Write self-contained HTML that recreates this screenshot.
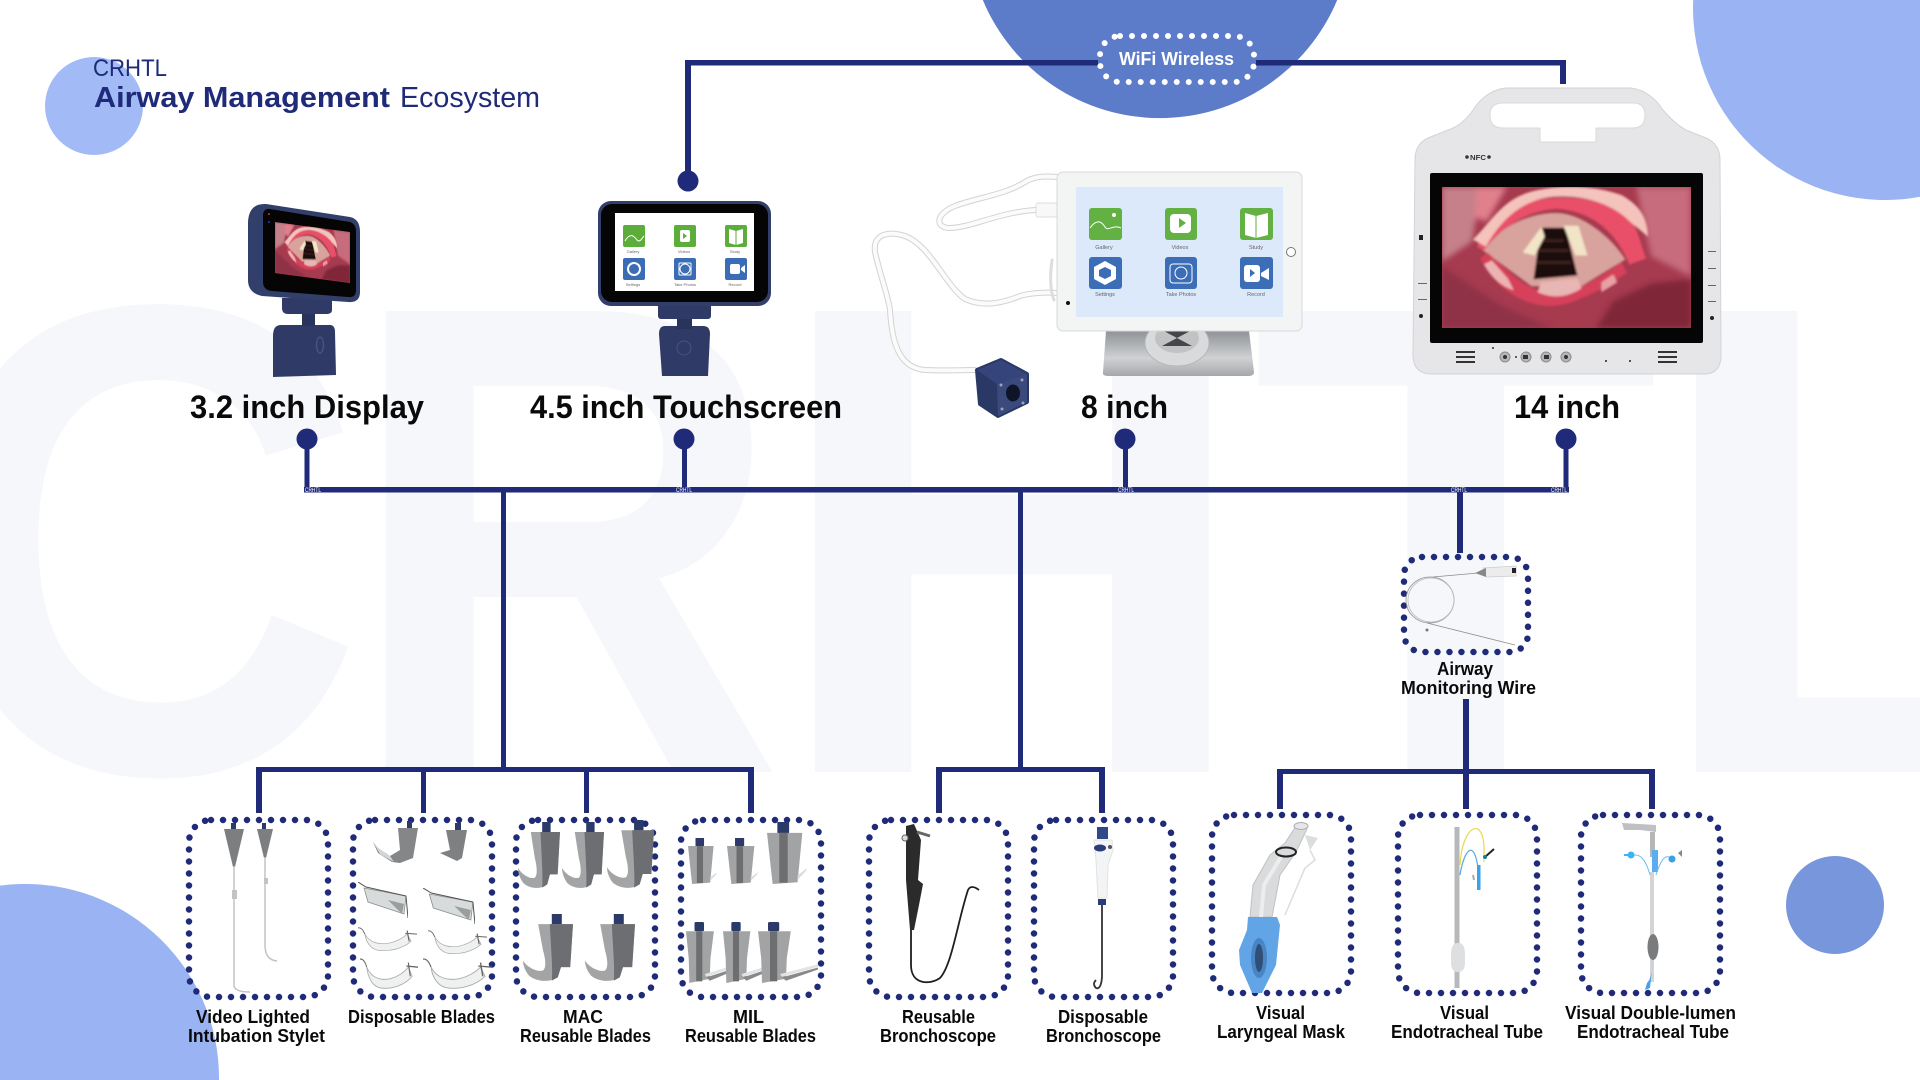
<!DOCTYPE html>
<html><head><meta charset="utf-8"><title>CRHTL Airway Management Ecosystem</title>
<style>
html,body{margin:0;padding:0;background:#fff;width:1920px;height:1080px;overflow:hidden}
svg{display:block;font-family:"Liberation Sans",sans-serif}
.lb{font-weight:700;fill:#0a0a0a;font-size:18px}
.bg{font-weight:700;font-size:670px;fill:#f6f7fa}
.tiny{font-size:6px;fill:#fff}
.ic{font-size:4px;fill:#666;text-anchor:middle}
.ic2{font-size:5.5px;fill:#666;text-anchor:middle}
</style></head><body>
<svg width="1920" height="1080" viewBox="0 0 1920 1080" xmlns="http://www.w3.org/2000/svg">
<defs>
<filter id="b1" x="-10%" y="-10%" width="120%" height="120%"><feGaussianBlur stdDeviation="1.200"/></filter>
<filter id="b3" x="-20%" y="-20%" width="140%" height="140%"><feGaussianBlur stdDeviation="3"/></filter>
<linearGradient id="st" x1="0" y1="0" x2="0" y2="1"><stop offset="0" stop-color="#8f9296"/><stop offset=".6" stop-color="#cfd1d3"/><stop offset="1" stop-color="#a5a7aa"/></linearGradient>
<symbol id="throat" viewBox="0 0 250 142" preserveAspectRatio="none">
<rect width="250" height="142" fill="#a63a4f"/>
<g filter="url(#b3)">
<path d="M0 0H40L30 55L0 75Z" fill="#c58089"/>
<path d="M195 0H250V90L210 70Z" fill="#c66c7b"/>
<path d="M0 80L60 120L110 142H0Z" fill="#8f3147"/>
<path d="M155 142L172 115L210 97L250 93V142Z" fill="#7f2539"/>
<path d="M35 0H65L45 35L32 30Z" fill="#e0808c"/>
</g>
<g filter="url(#b1)">
<path d="M40 63C60 38 90 26 114 26C140 26 170 50 184 73L140 100L90 100Z" fill="#d8a39c"/>
<path d="M35 60C45 42 60 20 90 14C120 8 165 10 188 30C198 45 200 60 205 72L188 78C175 45 150 24 115 22C85 24 60 40 42 64Z" fill="#e94f68"/>
<path d="M31 53C50 35 60 12 92 4C120 -2 150 -2 180 8C198 18 206 30 207 50L190 36C170 15 140 8 112 10C85 12 62 28 44 60Z" fill="#f3c3bc"/>
<path d="M38 72C50 92 62 106 82 114C100 122 118 122 140 112C160 104 172 96 186 86L180 76C164 88 148 98 130 104C108 110 90 104 75 92C62 82 52 72 46 66Z" fill="#d6405a"/>
<path d="M42 78C50 92 60 100 72 104L66 92L50 74Z" fill="#ecb3b2"/>
<path d="M160 96L172 88L176 96L160 106Z" fill="#e8a0a4"/>
<path d="M99 96L136 92L140 102C125 112 110 112 96 106Z" fill="#e8b6b4"/>
<path d="M99 41H124L136 89L92 93Z" fill="#1e1110"/>
<path d="M100 54H122M97 64H127M95 76H130" stroke="#3f2420" stroke-width="2.500" fill="none"/>
<path d="M100 40L81 66L93 69L103 50Z" fill="#f2e4c6"/>
<path d="M122 39H137L146 69L134 69Z" fill="#f2e4c6"/>
</g>
</symbol>
<symbol id="mac" viewBox="0 0 125 205" preserveAspectRatio="none">
<rect x="72" y="0" width="25" height="32" fill="#2c3a6a"/>
<path d="M38 30H125L118 158H95L87 188C70 203 35 203 15 183C5 168 0 153 0 138C10 158 35 173 50 168C60 158 55 128 50 108Z" fill="#a3a4a6"/>
<path d="M67 30H125L118 158H95L87 188L72 198C75 170 70 100 67 30Z" fill="#6d6e71"/>
</symbol>
<symbol id="mil" viewBox="0 0 85 137" preserveAspectRatio="none">
<rect x="22" y="0" width="25" height="26" fill="#2c3a6a"/>
<path d="M0 24H75L68 100L65 133L12 137L8 100Z" fill="#a2a3a5"/>
<rect x="26" y="24" width="18" height="110" fill="#6d6e70"/>
<path d="M65 118L85 102L83 108L65 128Z" fill="#dcdcdd"/>
</symbol>
<symbol id="mil2" viewBox="0 0 150 185" preserveAspectRatio="none">
<rect x="25" y="0" width="28" height="28" rx="4" fill="#2c3a6a"/>
<path d="M0 28H82L72 110L70 172L10 185L8 110Z" fill="#a2a3a5"/>
<rect x="30" y="28" width="18" height="152" fill="#6d6e70"/>
<path d="M60 168L150 138V144L70 178Z" fill="#88898b"/>
<path d="M55 158L150 128V136L60 166Z" fill="#e2e3e3"/>
</symbol>
<symbol id="curve" viewBox="0 0 60 28" preserveAspectRatio="none">
<path d="M7 8C12 18 22 20 32 18C40 16 46 12 50 8L54 16C46 24 32 28 20 26C12 24 8 16 7 8Z" fill="#eff1f1" stroke="#a8aaaa" stroke-width=".8"/>
<path d="M0 1Q4 0 7 8" fill="none" stroke="#666" stroke-width="1"/>
<path d="M48 7L60 8M50 4L52 16" stroke="#666" stroke-width="1.200" fill="none"/>
</symbol>
<symbol id="trans" viewBox="0 0 50 36" preserveAspectRatio="none">
<path d="M6 6L48 14L46 32L10 20Z" fill="#d8dbdb" stroke="#8d8f90" stroke-width=".8"/>
<path d="M0 0L8 5L48 14M48 14L50 36" stroke="#555" stroke-width="1" fill="none"/>
<path d="M30 18L46 22L44 32Z" fill="#9b9e9f"/>
</symbol>
</defs>

<rect width="1920" height="1080" fill="#fff"/>
<!-- watermark -->
<text x="-75" y="772" class="bg" textLength="440" lengthAdjust="spacingAndGlyphs">C</text>
<text x="345" y="772" class="bg" textLength="440" lengthAdjust="spacingAndGlyphs">R</text>
<text x="770" y="772" class="bg">H</text>
<text x="1251" y="772" class="bg">T</text>
<text x="1649" y="772" class="bg" textLength="430" lengthAdjust="spacingAndGlyphs">L</text>

<!-- circles -->
<circle cx="94" cy="106" r="49" fill="#a2bbf6"/>
<path d="M982.800 0A192 192 0 0 0 1337.200 0Z" fill="#5c7cc9"/>
<path d="M1693.200 0A192 192 0 0 0 1920 196.800V0Z" fill="#9ab3f3"/>
<path d="M0 1080V885.600A194 194 0 0 1 219 1080Z" fill="#9ab3f3"/>
<circle cx="1835" cy="905" r="49" fill="#7896dc"/>

<!-- title -->
<text x="93" y="76" font-size="24" fill="#1f2a78" textLength="74" lengthAdjust="spacingAndGlyphs">CRHTL</text>
<text x="94" y="107" font-size="29" font-weight="700" fill="#1f2a78" textLength="296" lengthAdjust="spacingAndGlyphs">Airway Management</text>
<text x="400" y="107" font-size="29" fill="#1f2a78" textLength="140" lengthAdjust="spacingAndGlyphs">Ecosystem</text>

<!-- connectors -->
<g fill="#1f2a78">
<rect x="685" y="60" width="413" height="5.500"/><rect x="685" y="60" width="6" height="120"/>
<rect x="1256" y="60" width="310" height="5.500"/><rect x="1560" y="60" width="6" height="24"/>
<circle cx="688" cy="181" r="10.500"/>
<rect x="304" y="487" width="1265" height="5.500"/>
<rect x="304.500" y="440" width="5" height="50"/><circle cx="307" cy="439" r="10.500"/>
<rect x="682" y="440" width="5" height="50"/><circle cx="684" cy="439" r="10.500"/>
<rect x="1123" y="440" width="5" height="50"/><circle cx="1125" cy="439" r="10.500"/>
<rect x="1563.500" y="440" width="5" height="50"/><circle cx="1566" cy="439" r="10.500"/>
<rect x="501" y="490" width="5" height="280"/>
<rect x="1018" y="490" width="5" height="280"/>
<rect x="1457" y="490" width="6" height="63"/>
<rect x="1463" y="699" width="6" height="72"/>
<rect x="256" y="767" width="498" height="5"/>
<rect x="256" y="767" width="6" height="46"/><rect x="421" y="767" width="5" height="46"/><rect x="584" y="767" width="5" height="46"/><rect x="748" y="767" width="6" height="46"/>
<rect x="936" y="767" width="169" height="5"/>
<rect x="936" y="767" width="6" height="46"/><rect x="1099" y="767" width="6" height="46"/>
<rect x="1277" y="769" width="378" height="5"/>
<rect x="1277" y="769" width="6" height="40"/><rect x="1463" y="769" width="6" height="40"/><rect x="1649" y="769" width="6" height="40"/>
</g>
<text x="305" y="492" class="tiny" textLength="16" lengthAdjust="spacingAndGlyphs">CRHTL</text>
<text x="676" y="492" class="tiny" textLength="16" lengthAdjust="spacingAndGlyphs">CRHTL</text>
<text x="1118" y="492" class="tiny" textLength="16" lengthAdjust="spacingAndGlyphs">CRHTL</text>
<text x="1451" y="492" class="tiny" textLength="16" lengthAdjust="spacingAndGlyphs">CRHTL</text>
<text x="1551" y="492" class="tiny" textLength="16" lengthAdjust="spacingAndGlyphs">CRHTL</text>

<!-- wifi -->
<rect x="1100" y="36" width="154" height="46" rx="20" fill="none" stroke="#fff" stroke-width="6" stroke-linecap="round" stroke-dasharray="0 12"/>
<text x="1119" y="65" font-size="18" font-weight="700" fill="#fff" textLength="115" lengthAdjust="spacingAndGlyphs">WiFi Wireless</text>

<!-- 3.2 inch device -->
<g>
<path d="M281 325H328Q335 324 335 332L336 375L273 377L273 336Q273 325 281 325Z" fill="#2f3b66"/>
<ellipse cx="320" cy="345" rx="3.500" ry="8" fill="none" stroke="#47537e" stroke-width="1.500"/>
<rect x="302" y="312" width="13" height="14" fill="#29345c"/>
<path d="M282 298H332V310Q332 314 326 314H288Q282 314 282 308Z" fill="#2f3b66"/>
<path d="M266 204L350 217Q360 219 360 232L360 292Q360 303 348 302L262 296Q248 293 248 280V222Q249 203 266 204Z" fill="#333f6b"/>
<path d="M270 209L350 222Q356 224 356 232V290Q356 298 348 297L272 291Q263 290 263 282V216Q263 208 270 209Z" fill="#050505"/>
<use href="#throat" width="250" height="142" transform="matrix(.3 .04 0 .36 275 222)"/>
<circle cx="269" cy="214" r="1" fill="#c33"/><circle cx="269" cy="222" r="1" fill="#33c"/>
</g>

<!-- 4.5 inch device -->
<g>
<path d="M665 326H703Q710 326 710 334L708 376H662L659 334Q659 326 665 326Z" fill="#2f3b66"/>
<circle cx="684" cy="348" r="7" fill="none" stroke="#47537e"/>
<rect x="677" y="315" width="15" height="14" fill="#29345c"/>
<rect x="658" y="300" width="53" height="19" rx="3" fill="#2f3b66"/>
<rect x="598" y="201" width="173" height="105" rx="13" fill="#333f6b"/>
<rect x="601" y="204" width="167" height="98" rx="11" fill="#050505"/>
<rect x="615" y="213" width="139" height="78" fill="#fff"/>
<g fill="#5cad3a"><rect x="623" y="225" width="22" height="22" rx="2"/><rect x="674" y="225" width="22" height="22" rx="2"/><rect x="725" y="225" width="22" height="22" rx="2"/></g>
<g fill="#3a6db5"><rect x="623" y="258" width="22" height="22" rx="2"/><rect x="674" y="258" width="22" height="22" rx="2"/><rect x="725" y="258" width="22" height="22" rx="2"/></g>
<path d="M625 241C630 232 634 236 637 240C640 243 642 238 644 236" fill="none" stroke="#fff"/>
<rect x="680" y="230" width="10" height="12" rx="2" fill="#fff"/><path d="M683 233L687 236L683 239Z" fill="#5cad3a"/>
<path d="M729 229L736 231L743 229V243L736 245L729 243Z" fill="#fff"/><path d="M736 231V245" stroke="#5cad3a"/>
<circle cx="634" cy="269" r="6" fill="none" stroke="#fff" stroke-width="2"/><circle cx="685" cy="269" r="5" fill="none" stroke="#fff"/><rect x="679" y="263" width="12" height="12" rx="1" fill="none" stroke="#fff"/>
<rect x="730" y="264" width="10" height="10" rx="2" fill="#fff"/><path d="M741 268L745 265V273L741 270Z" fill="#fff"/>
<text x="633" y="253" class="ic">Gallery</text><text x="684" y="253" class="ic">Videos</text><text x="735" y="253" class="ic">Study</text>
<text x="633" y="286" class="ic">Settings</text><text x="685" y="286" class="ic">Take Photos</text><text x="735" y="286" class="ic">Record</text>
</g>

<!-- 8 inch device cables -->
<g fill="none" stroke-linecap="round">
<path d="M1057 293C1045 292 1030 293 1020 296C1005 302 985 308 965 299C945 285 930 245 905 236C885 230 873 236 875 252C880 275 888 295 890 310C892 345 900 368 925 370C945 371 960 370 975 370" stroke="#d2d3d3" stroke-width="6"/>
<path d="M1057 293C1045 292 1030 293 1020 296C1005 302 985 308 965 299C945 285 930 245 905 236C885 230 873 236 875 252C880 275 888 295 890 310C892 345 900 368 925 370C945 371 960 370 975 370" stroke="#fbfbfb" stroke-width="4"/>
<path d="M1057 177C1045 176 1035 176 1025 182C1005 195 975 198 955 206C935 214 935 228 950 228C970 228 1000 212 1035 210" stroke="#d2d3d3" stroke-width="6"/>
<path d="M1057 177C1045 176 1035 176 1025 182C1005 195 975 198 955 206C935 214 935 228 950 228C970 228 1000 212 1035 210" stroke="#fbfbfb" stroke-width="4"/>
<path d="M1052 260C1050 275 1050 290 1054 300" stroke="#ddd" stroke-width="3"/>
</g>
<rect x="1036" y="203" width="21" height="14" rx="2" fill="#f8f8f8" stroke="#ddd"/>
<!-- camera -->
<g stroke-linejoin="round">
<path d="M977 370L1001 360L1027 374V402L998 416L980 404Z" fill="#2a3866" stroke="#2a3866" stroke-width="4"/>
<path d="M977 370L1001 360L1027 374L997 384Z" fill="#35447a"/>
<path d="M997 384L1027 374V402L998 416Z" fill="#3a4a7d"/>
<ellipse cx="1013" cy="393" rx="7" ry="8.500" fill="#0f1426"/>
<g fill="#9aa3b8"><circle cx="1001" cy="385" r="1.500"/><circle cx="1022" cy="380" r="1.500"/><circle cx="1002" cy="409" r="1.500"/><circle cx="1023" cy="403" r="1.500"/></g>
</g>
<!-- 8 inch stand + tablet -->
<g>
<path d="M1106 331H1249L1254 372Q1254 376 1248 376H1108Q1102 376 1103 372Z" fill="url(#st)"/>
<ellipse cx="1177" cy="343" rx="32" ry="23" fill="#d9dadb" stroke="#b4b6b8"/>
<ellipse cx="1177" cy="338" rx="22" ry="15" fill="#c0c2c4"/>
<path d="M1162 330L1192 346H1162L1192 330Z" fill="#44464a"/>
<rect x="1057" y="172" width="245" height="159" rx="6" fill="#f3f4f4" stroke="#d8d9da"/>
<rect x="1076" y="187" width="207" height="130" fill="#dbe9fb"/>
<circle cx="1291" cy="252" r="4.500" fill="#fff" stroke="#777"/>
<circle cx="1068" cy="303" r="2" fill="#111"/>
<g fill="#63b043"><rect x="1089" y="208" width="33" height="32" rx="3"/><rect x="1165" y="208" width="32" height="32" rx="3"/><rect x="1240" y="208" width="33" height="32" rx="3"/></g>
<g fill="#3c6db7"><rect x="1089" y="257" width="33" height="32" rx="3"/><rect x="1165" y="257" width="32" height="32" rx="3"/><rect x="1240" y="257" width="33" height="32" rx="3"/></g>
<path d="M1090 228C1097 218 1102 222 1105 227C1108 232 1113 224 1121 228" fill="none" stroke="#fff"/><circle cx="1114" cy="215" r="2" fill="#fff"/>
<rect x="1170" y="214" width="21" height="19" rx="4" fill="#fff"/><path d="M1179 218L1186 223L1179 228Z" fill="#63b043"/>
<path d="M1245 213L1256 216L1268 213V235L1256 238L1245 235Z" fill="#fff"/><path d="M1256 216V238" stroke="#63b043"/>
<path d="M1105 261L1116 267V279L1105 285L1094 279V267Z" fill="#fff"/><path d="M1105 267L1111 270V276L1105 279L1099 276V270Z" fill="#3c6db7"/>
<rect x="1170" y="264" width="22" height="19" rx="3" fill="none" stroke="#fff"/><circle cx="1181" cy="273" r="6" fill="none" stroke="#fff"/>
<rect x="1244" y="265" width="16" height="17" rx="3" fill="#fff"/><path d="M1261 273L1269 268V280L1261 276Z" fill="#fff"/><path d="M1250 269L1255 273L1250 277Z" fill="#3c6db7"/>
<text x="1104" y="249" class="ic2">Gallery</text><text x="1180" y="249" class="ic2">Videos</text><text x="1256" y="249" class="ic2">Study</text>
<text x="1105" y="296" class="ic2">Settings</text><text x="1181" y="296" class="ic2">Take Photos</text><text x="1256" y="296" class="ic2">Record</text>
</g>

<!-- 14 inch device -->
<g>
<path d="M1506 88H1630Q1650 90 1663 110Q1675 124 1686 130L1706 138Q1720 144 1720 160L1721 355Q1721 374 1704 374H1432Q1413 374 1413 355L1415 160Q1415 144 1428 138L1453 128Q1465 122 1473 110Q1486 90 1506 88Z" fill="#e6e6e8" stroke="#d2d3d4"/>
<path d="M1503 103H1633Q1645 103 1645 115Q1645 128 1633 128H1596V142H1540V128H1503Q1490 128 1490 115Q1490 103 1503 103Z" fill="#fff" stroke="#d8d9da"/>
<rect x="1430" y="173" width="273" height="170" rx="2" fill="#050505"/>
<use href="#throat" x="1442" y="187" width="249" height="141"/>
<text x="1470" y="160" font-size="7.500" font-weight="700" fill="#333" textLength="16" lengthAdjust="spacingAndGlyphs">NFC</text>
<circle cx="1467" cy="157" r="1.800" fill="#333"/><circle cx="1489" cy="157" r="1.800" fill="#333"/>
<g fill="#333"><rect x="1456" y="351" width="19" height="2"/><rect x="1456" y="356" width="19" height="2"/><rect x="1456" y="361" width="19" height="2"/><rect x="1658" y="351" width="19" height="2"/><rect x="1658" y="356" width="19" height="2"/><rect x="1658" y="361" width="19" height="2"/></g>
<g fill="#b5b6b8" stroke="#8b8c8e"><circle cx="1505" cy="357" r="5"/><circle cx="1526" cy="357" r="5"/><circle cx="1546" cy="357" r="5"/><circle cx="1566" cy="357" r="5"/></g>
<g fill="#333"><rect x="1523" y="355" width="5" height="4"/><rect x="1544" y="355" width="5" height="4"/><circle cx="1505" cy="357" r="2"/><circle cx="1566" cy="357" r="2"/><circle cx="1516" cy="357" r="1"/><circle cx="1493" cy="348" r="1"/></g>
<g fill="#222"><circle cx="1421" cy="316" r="2"/><circle cx="1712" cy="318" r="2"/><circle cx="1606" cy="361" r="1"/><circle cx="1630" cy="361" r="1"/><rect x="1419" y="235" width="4" height="5"/></g>
<g fill="#666"><rect x="1418" y="283" width="9" height="1"/><rect x="1418" y="299" width="9" height="1"/><rect x="1708" y="251" width="8" height="1"/><rect x="1708" y="268" width="8" height="1"/><rect x="1708" y="285" width="8" height="1"/><rect x="1708" y="301" width="8" height="1"/></g>
</g>

<!-- dotted frames -->
<g fill="none" stroke="#1f2a78" stroke-width="6.500" stroke-linecap="round" stroke-dasharray="0 12">
<rect x="189" y="820" width="139" height="177" rx="22"/>
<rect x="353" y="820" width="139" height="177" rx="22"/>
<rect x="516" y="820" width="139" height="177" rx="22"/>
<rect x="681" y="820" width="140" height="177" rx="22"/>
<rect x="869" y="820" width="139" height="177" rx="22"/>
<rect x="1034" y="820" width="139" height="177" rx="22"/>
<rect x="1212" y="815" width="139" height="178" rx="22"/>
<rect x="1398" y="815" width="139" height="178" rx="22"/>
<rect x="1581" y="815" width="139" height="178" rx="22"/>
<rect x="1404" y="557" width="124" height="95" rx="18"/>
</g>

<!-- wire -->
<g fill="none" stroke="#8a8b8d" stroke-width=".8">
<ellipse cx="1430" cy="600" rx="24" ry="23"/><ellipse cx="1431" cy="600" rx="23" ry="22" stroke="#bbb"/>
<path d="M1433 577L1478 573M1427 623L1515 645"/>
<path d="M1483 568L1516 566V576L1486 577Z" fill="#ececec" stroke="#ccc"/>
<path d="M1475 573L1486 568V577Z" fill="#888" stroke="none"/>
<rect x="1512" y="568" width="4" height="5" fill="#222" stroke="none"/>
<circle cx="1427" cy="630" r="1.500" fill="#777" stroke="none"/>
</g>

<!-- stylets -->
<g>
<rect x="231" y="823" width="5" height="7" fill="#2c3a6a"/><path d="M224 829H244L235 867H233Z" fill="#7d7e80"/>
<path d="M234 866V985Q234 992 250 992" fill="none" stroke="#c2c3c4" stroke-width="1.500"/><rect x="232" y="890" width="5" height="9" fill="#c2c3c4"/>
<rect x="262" y="823" width="4" height="7" fill="#2c3a6a"/><path d="M257 829H273L266 858H264Z" fill="#7d7e80"/>
<path d="M265 857V945Q265 960 277 961" fill="none" stroke="#c2c3c4" stroke-width="1.500"/><rect x="264" y="878" width="4" height="6" fill="#c2c3c4"/>
</g>
<!-- disposable blades -->
<g>
<rect x="407" y="821" width="5" height="8" fill="#2c3a6a"/><path d="M398 828H418L413 858L400 863L392 862L378 853L373 842L378 848L390 856L400 850Z" fill="#858688"/>
<path d="M373 842L378 848L390 856L394 862L380 854Z" fill="#d5d6d7"/>
<rect x="455" y="823" width="6" height="7" fill="#2c3a6a"/><path d="M446 830H467L462 858L457 861L440 853L450 850Z" fill="#7f8082"/>
<use href="#trans" x="358" y="882" width="50" height="36"/><use href="#trans" x="423" y="888" width="52" height="36"/>
<use href="#curve" x="358" y="927" width="59" height="25"/><use href="#curve" x="428" y="930" width="59" height="25"/>
<use href="#curve" x="360" y="958" width="58" height="32"/><use href="#curve" x="423" y="958" width="69" height="32"/>
</g>
<!-- MAC -->
<use href="#mac" x="518" y="822" width="42" height="68"/><use href="#mac" x="562" y="822" width="42" height="68"/><use href="#mac" x="607" y="820" width="47" height="70"/>
<use href="#mac" x="523" y="914" width="50" height="69"/><use href="#mac" x="585" y="914" width="50" height="69"/>
<!-- MIL -->
<use href="#mil" x="688" y="838" width="29" height="46"/><use href="#mil" x="727" y="838" width="31" height="46"/><use href="#mil" x="767" y="822" width="40" height="62"/>
<use href="#mil2" x="686" y="922" width="51" height="61"/><use href="#mil2" x="723" y="922" width="50" height="61"/><use href="#mil2" x="758" y="922" width="60" height="61"/>
<!-- reusable broncho -->
<g>
<path d="M906 826L914 824L921 840L918 880L923 884L919 905L914 930H910L908 905L906 880Z" fill="#2b2b2b"/>
<circle cx="905" cy="838" r="3" fill="#ddd" stroke="#666"/>
<path d="M917 832L930 836" stroke="#666" stroke-width="3"/>
<path d="M911 930V965C911 985 930 985 940 978C952 965 958 920 968 890Q971 884 979 890" fill="none" stroke="#1e1e1e" stroke-width="1.800"/>
</g>
<!-- disposable broncho -->
<g>
<rect x="1097" y="827" width="11" height="12" fill="#2f4a86"/>
<path d="M1094 840H1112L1113 850L1108 865L1107 898H1098L1096 860Z" fill="#f3f4f6" stroke="#e1e2e4"/>
<ellipse cx="1100" cy="848" rx="6" ry="3.500" fill="#2a3d78"/><circle cx="1110" cy="847" r="2" fill="#555"/>
<rect x="1098" y="899" width="8" height="6" fill="#2a3d78"/>
<path d="M1102 905V977Q1101 990 1096 988Q1092 984 1096 980" fill="none" stroke="#333" stroke-width="1.800"/>
</g>
<!-- LMA -->
<g>
<path d="M1296 826L1307 829L1296 852L1280 875L1272 917H1250L1253 885L1270 855L1285 843Z" fill="#d9dbdc" stroke="#bfc1c2"/>
<path d="M1261 917L1264 885L1281 857" fill="none" stroke="#eceded" stroke-width="4"/>
<ellipse cx="1301" cy="826" rx="7" ry="3.500" fill="#e6e7e8" stroke="#aaa"/>
<ellipse cx="1286" cy="852" rx="10" ry="4.500" fill="none" stroke="#222" stroke-width="2"/>
<path d="M1305 835L1318 838L1310 850Z" fill="#ddd"/>
<path d="M1310 850L1315 860L1305 868L1285 915" fill="none" stroke="#ddd" stroke-width="1.500"/>
<path d="M1248 917H1277L1280 925L1278 945L1276 965L1262 993H1252L1240 965L1239 950L1247 930Z" fill="#62a5e6"/>
<ellipse cx="1259" cy="958" rx="8" ry="20" fill="#4885c4"/>
<ellipse cx="1259" cy="958" rx="4" ry="14" fill="#2f4f75"/>
</g>
<!-- ETT -->
<g fill="none">
<rect x="1454.500" y="827" width="5" height="161" fill="#b6b8ba"/>
<path d="M1451 955C1451 945 1454 943 1458 943C1462 943 1465 945 1465 955V962C1465 970 1462 972 1458 972C1454 972 1451 970 1451 962Z" fill="#dedfe0"/>
<path d="M1460 865C1462 825 1484 815 1484 850V862" stroke="#e8d84c" stroke-width="1.200"/>
<path d="M1460 875C1464 850 1474 838 1478 868" stroke="#58a9e0" stroke-width="1.200"/>
<rect x="1477" y="865" width="3.500" height="25" fill="#3aa2e8"/>
<path d="M1485 857L1494 849" stroke="#222" stroke-width="2"/><circle cx="1485" cy="857" r="2" fill="#16808c"/>
<path d="M1473 875L1474 880" stroke="#aaa" stroke-width="2"/>
</g>
<!-- DLT -->
<g fill="none">
<path d="M1622 823L1656 825V832L1640 830L1624 830Z" fill="#bfc0c2"/>
<rect x="1650" y="832" width="5" height="25" fill="#b5b6b8"/>
<rect x="1652" y="850" width="6" height="22" fill="#5aaef0"/>
<rect x="1650" y="872" width="4" height="110" fill="#d3d4d6"/>
<ellipse cx="1653" cy="947" rx="5.500" ry="13" fill="#7a7b7d"/>
<path d="M1631 856C1640 852 1646 860 1650 875M1672 859C1665 852 1660 862 1656 875" stroke="#6dc0ec"/>
<circle cx="1631" cy="855" r="3.500" fill="#38b6f0"/><path d="M1624 855H1631" stroke="#38b6f0" stroke-width="2"/>
<circle cx="1672" cy="859" r="3.500" fill="#3aa0e6"/>
<path d="M1678 853L1682 850V857Z" fill="#888"/>
<path d="M1653 960C1652 975 1650 980 1647 983L1645 990L1650 988Z" fill="#4aa0e4"/>
</g>

<!-- labels -->
<g>
<text x="190" y="418" class="lb" style="font-size:32px" textLength="234" lengthAdjust="spacingAndGlyphs">3.2 inch Display</text>
<text x="530" y="418" class="lb" style="font-size:32px" textLength="312" lengthAdjust="spacingAndGlyphs">4.5 inch Touchscreen</text>
<text x="1081" y="418" class="lb" style="font-size:32px" textLength="87" lengthAdjust="spacingAndGlyphs">8 inch</text>
<text x="1514" y="418" class="lb" style="font-size:32px" textLength="106" lengthAdjust="spacingAndGlyphs">14 inch</text>
<text x="1437" y="675" class="lb" textLength="56" lengthAdjust="spacingAndGlyphs">Airway</text>
<text x="1401" y="694" class="lb" textLength="135" lengthAdjust="spacingAndGlyphs">Monitoring Wire</text>
<text x="196" y="1023" class="lb" textLength="114" lengthAdjust="spacingAndGlyphs">Video Lighted</text>
<text x="188" y="1042" class="lb" textLength="137" lengthAdjust="spacingAndGlyphs">Intubation Stylet</text>
<text x="348" y="1023" class="lb" textLength="147" lengthAdjust="spacingAndGlyphs">Disposable Blades</text>
<text x="563" y="1023" class="lb" textLength="40" lengthAdjust="spacingAndGlyphs">MAC</text>
<text x="520" y="1042" class="lb" textLength="131" lengthAdjust="spacingAndGlyphs">Reusable Blades</text>
<text x="733" y="1023" class="lb" textLength="31" lengthAdjust="spacingAndGlyphs">MIL</text>
<text x="685" y="1042" class="lb" textLength="131" lengthAdjust="spacingAndGlyphs">Reusable Blades</text>
<text x="902" y="1023" class="lb" textLength="73" lengthAdjust="spacingAndGlyphs">Reusable</text>
<text x="880" y="1042" class="lb" textLength="116" lengthAdjust="spacingAndGlyphs">Bronchoscope</text>
<text x="1058" y="1023" class="lb" textLength="90" lengthAdjust="spacingAndGlyphs">Disposable</text>
<text x="1046" y="1042" class="lb" textLength="115" lengthAdjust="spacingAndGlyphs">Bronchoscope</text>
<text x="1256" y="1019" class="lb" textLength="49" lengthAdjust="spacingAndGlyphs">Visual</text>
<text x="1217" y="1038" class="lb" textLength="128" lengthAdjust="spacingAndGlyphs">Laryngeal Mask</text>
<text x="1440" y="1019" class="lb" textLength="49" lengthAdjust="spacingAndGlyphs">Visual</text>
<text x="1391" y="1038" class="lb" textLength="152" lengthAdjust="spacingAndGlyphs">Endotracheal Tube</text>
<text x="1565" y="1019" class="lb" textLength="171" lengthAdjust="spacingAndGlyphs">Visual Double-lumen</text>
<text x="1577" y="1038" class="lb" textLength="152" lengthAdjust="spacingAndGlyphs">Endotracheal Tube</text>
</g>
</svg>
</body></html>
